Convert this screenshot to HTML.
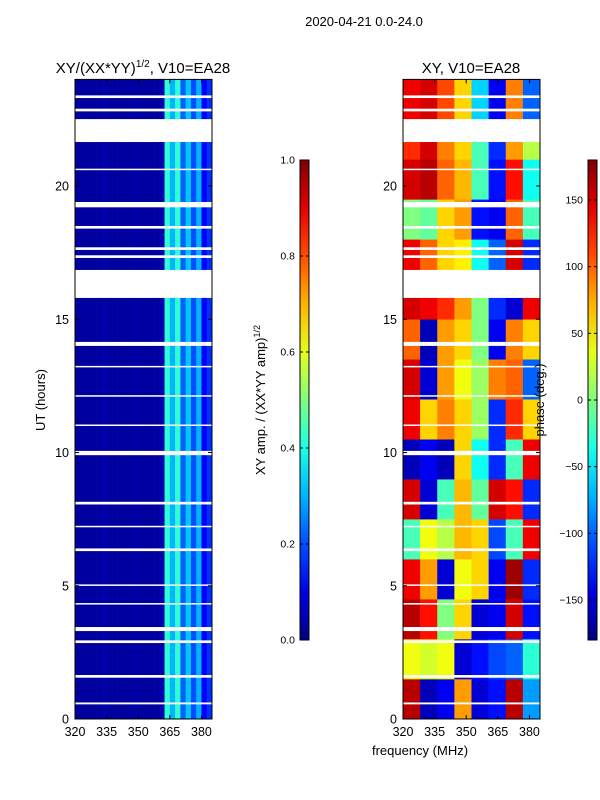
<!DOCTYPE html>
<html><head><meta charset="utf-8"><style>
body{margin:0;background:#fff;}
svg{display:block;font-family:"Liberation Sans",sans-serif;}
</style></head><body>
<svg id="c" width="600" height="800"></svg>
<script>
const hourTicks=[0,5,10,15,20];
const freqTicks=[320,335,350,365,380];
const ampTicks=["0.0","0.2","0.4","0.6","0.8","1.0"];
const phaseTicks=[-150,-100,-50,0,50,100,150];
const ampCols=[0.03,0.03,0.03,0.03,0.03,0.04,0.03,0.03,0.03,0.03,0.03,0.04,0.03,0.03,0.03,0.03,0.05,0.42,0.3,0.42,0.22,0.32,0.2,0.3,0.12,0.17];
const phaseGrid=[
[160,-160,-140,80,-150,-130,160,-80],
[40,30,40,-150,-130,-110,-100,-30],
[160,130,0,60,-150,-140,150,-130],
[140,80,-150,40,60,-140,170,-120],
[-20,40,20,70,60,-110,-20,140],
[150,-150,-20,70,-10,150,130,-120],
[-160,-140,-160,60,-40,-120,-20,140],
[140,60,90,60,10,-120,120,60],
[150,-150,80,40,10,90,100,-100],
[100,-160,80,60,0,-140,90,60],
[150,140,120,80,0,-120,-150,140],
[140,100,60,50,-40,-100,150,-120],
[0,-10,60,80,-130,-140,100,-20],
[150,160,100,70,-20,-130,130,-40],
[120,150,90,60,-20,-120,80,20],
[140,150,110,60,-60,-140,90,-100]];
const flagged=[[21.65,22.51],[15.8,16.85],[19.2,19.4],[9.9,10.06],[14.0,14.15],[3.3,3.45],[23.3,23.4],[22.8,22.9],[17.6,17.7],[17.3,17.4],[8.05,8.15],[6.3,6.4],[2.85,2.95],[1.55,1.65],[0.55,0.62],[12.1,12.15],[11.0,11.05],[5.0,5.05],[18.4,18.5],[20.6,20.65],[13.2,13.25],[7.2,7.25],[4.3,4.35]];

const NS="http://www.w3.org/2000/svg";
const svg=document.getElementById('c');
function mk(t,a,p){const e=document.createElementNS(NS,t);for(const k in a)e.setAttribute(k,a[k]);(p||svg).appendChild(e);return e;}
function jet(v){v=Math.max(0,Math.min(1,v));const f=x=>Math.round(255*Math.max(0,Math.min(1,1.5-Math.abs(4*v-x))));return `rgb(${f(3)},${f(2)},${f(1)})`;}
const Y0=719,Y1=79.4;
const y=h=>Y0-(h/24)*(Y0-Y1);
function panel(x0){return f=>x0+(f-320)/65*137;}
const xL=panel(75),xR=panel(403);

const gL=mk('g',{});
ampCols.forEach((v,i)=>{const r=mk('rect',{x:xL(320+i*2.5),y:y(24),width:xL(322.5)-xL(320)+0.3,height:y(0)-y(24),fill:jet(v)},gL);
});
const gR=mk('g',{});
const cw=65/8;
phaseGrid.forEach((row,ri)=>row.forEach((v,ci)=>{const r=mk('rect',{x:xR(320+ci*cw),y:y((ri+1)*1.5),width:xR(320+cw)-xR(320)+0.3,height:y(0)-y(1.5)+0.3,fill:jet((v+180)/360)},gR);
}));
[75,403].forEach(x0=>flagged.forEach(([a,b])=>{const r=mk('rect',{x:x0,y:y(b),width:137,height:Math.max(1.5,y(a)-y(b)),fill:'#fff'});
}));

function axes(x0,xf,title,tname){
 const f=mk('rect',{x:x0,y:Y1,width:137,height:Y0-Y1,fill:'none',stroke:'#000','stroke-width':1});
 
 hourTicks.forEach(h=>{mk('line',{x1:x0,x2:x0+4,y1:y(h),y2:y(h),stroke:'#000'});mk('line',{x1:x0+137,x2:x0+133,y1:y(h),y2:y(h),stroke:'#000'});
  const t=mk('text',{x:x0-6,y:y(h)+4.5,'text-anchor':'end','font-size':12.5});t.textContent=h;
  });
 freqTicks.forEach(fq=>{mk('line',{x1:xf(fq),x2:xf(fq),y1:Y0,y2:Y0-4,stroke:'#000'});mk('line',{x1:xf(fq),x2:xf(fq),y1:Y1,y2:Y1+4,stroke:'#000'});
  const t=mk('text',{x:xf(fq),y:736,'text-anchor':'middle','font-size':12.5});t.textContent=fq;
  });
 const t=mk('text',{x:x0+68,y:73,'text-anchor':'middle','font-size':15});t.innerHTML=title;
 
}
axes(75,xL,'XY/(XX*YY)<tspan dy="-6" font-size="10">1/2</tspan><tspan dy="6">, V10=EA28</tspan>','amp');
axes(403,xR,'XY, V10=EA28','phase');

function cbar(x0,ticks,pos,name){
 const g=mk('linearGradient',{id:name+'g',x1:0,y1:1,x2:0,y2:0});
 for(let i=0;i<=10;i++)mk('stop',{offset:i/10,'stop-color':jet(i/10)},g);
 const r=mk('rect',{x:x0,y:160,width:9,height:480,fill:`url(#${name}g)`,stroke:'#000'});
 
 ticks.forEach(tk=>{const yy=pos(tk);mk('line',{x1:x0,x2:x0+3,y1:yy,y2:yy,stroke:'#000'});mk('line',{x1:x0+9,x2:x0+6,y1:yy,y2:yy,stroke:'#000'});
  const t=mk('text',{x:x0-5,y:yy+3.5,'text-anchor':'end','font-size':10.5});t.textContent=String(tk).replace('-','\u2212');
  });
}
cbar(300,ampTicks,v=>640-parseFloat(v)*480,'amp-colorbar');
cbar(588,phaseTicks,v=>640-(v+180)/360*480,'phase-colorbar');
function txt(x,yy,s,name,extra){const t=mk('text',Object.assign({x:x,y:yy,'text-anchor':'middle','font-size':13},extra||{}));t.innerHTML=s;
 return t;}
txt(364,26,'2020-04-21 0.0-24.0','figure-title');
txt(45,400,'UT (hours)','y-axis-title',{transform:'rotate(-90 45 400)'});
txt(265,400,'XY amp. / (XX*YY amp)<tspan dy="-5" font-size="9">1/2</tspan>','colorbar-amp-title',{transform:'rotate(-90 265 400)'});
txt(544,400,'phase (deg.)','colorbar-phase-title',{transform:'rotate(-90 544 400)'});
txt(420,755,'frequency (MHz)','x-axis-title');
</script>
</body></html>
